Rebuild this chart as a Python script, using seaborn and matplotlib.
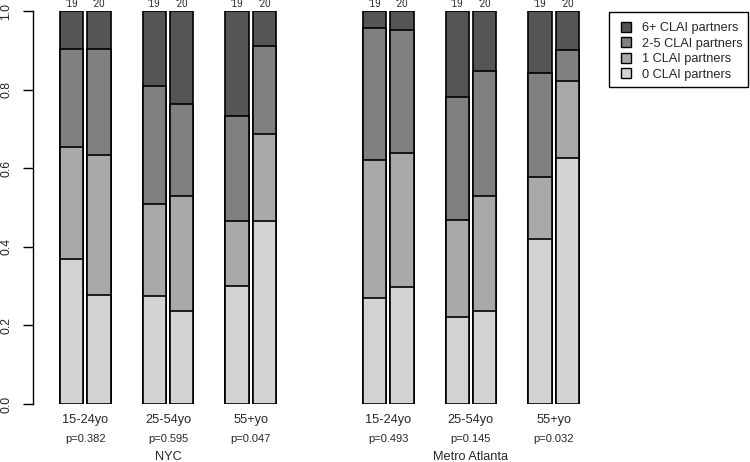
import pandas as pd
import matplotlib
matplotlib.use("Agg")
import matplotlib.pyplot as plt
from matplotlib.patches import Patch, Rectangle
import seaborn as sns

# ---- data ----
cities = ["NYC", "Metro Atlanta"]
ages = ["15-24yo", "25-54yo", "55+yo"]
years = ["'19", "'20"]
p_values = [["p=0.382", "p=0.595", "p=0.047"],
            ["p=0.493", "p=0.145", "p=0.032"]]
levels = ["0 CLAI partners", "1 CLAI partners", "2-5 CLAI partners", "6+ CLAI partners"]
level_colors = ["#D3D3D3", "#A9A9A9", "#808080", "#555555"]

# one value per bar: NYC 15-24 '19, '20, 25-54 '19, '20, 55+ '19, '20, then Metro Atlanta
zero_partners = [0.368, 0.278, 0.276, 0.236, 0.300, 0.466, 0.269, 0.297, 0.221, 0.237, 0.421, 0.626]
one_partner = [0.286, 0.356, 0.233, 0.294, 0.166, 0.222, 0.352, 0.341, 0.248, 0.291, 0.157, 0.197]
two_five_partners = [0.250, 0.270, 0.301, 0.234, 0.267, 0.222, 0.335, 0.314, 0.313, 0.319, 0.263, 0.077]
six_plus_partners = [0.096, 0.096, 0.190, 0.236, 0.267, 0.090, 0.044, 0.048, 0.218, 0.153, 0.159, 0.100]

# spacing between bars (in bar widths)
YEAR_STEP, AGE_STEP, CITY_STEP = 1.18, 3.55, 13.0

rows = []
i = 0
for c, city in enumerate(cities):
    for a, age in enumerate(ages):
        for y, year in enumerate(years):
            rows.append({
                "city": city, "age": age, "year": year,
                "pos": c * CITY_STEP + a * AGE_STEP + y * YEAR_STEP,
                "0": zero_partners[i], "1": one_partner[i],
                "2-5": two_five_partners[i], "6+": six_plus_partners[i],
            })
            i += 1
df = pd.DataFrame(rows)
keys = ["0", "1", "2-5", "6+"]
cum = df[keys].cumsum(axis=1)

sns.set_style("white")
plt.rcParams["font.family"] = ["Liberation Sans", "DejaVu Sans"]

fig = plt.figure(figsize=(7.5, 4.62), dpi=100)
ax = fig.add_axes([33 / 750, 58 / 462, 567 / 750, 393 / 462])

# stacked bars: draw cumulative totals from top level down
for k in range(len(keys) - 1, -1, -1):
    plot_df = pd.DataFrame({"pos": df["pos"], "cum": cum[keys[k]]})
    sns.barplot(data=plot_df, x="pos", y="cum", native_scale=True,
                width=1 / YEAR_STEP, color=level_colors[k], saturation=1,
                edgecolor="black", linewidth=1.2, errorbar=None, ax=ax)

ax.set_xlim(-1.652, 22.68)
ax.set_ylim(0, 1)
ax.set_xlabel("")
ax.set_ylabel("")
ax.set_xticks([])
ax.set_yticks([0, 0.2, 0.4, 0.6, 0.8, 1.0])
ax.set_yticklabels(["0.0", "0.2", "0.4", "0.6", "0.8", "1.0"])
ax.tick_params(axis="y", left=True, length=7, width=1, pad=12.3,
               labelsize=8.8, labelrotation=90, color="black")
for lab in ax.get_yticklabels():
    lab.set_va("center")
    lab.set_ha("center")
for side in ["top", "right", "bottom"]:
    ax.spines[side].set_visible(False)
ax.spines["left"].set_color("black")
ax.spines["left"].set_linewidth(1)

# year labels above bars
for _, r in df.iterrows():
    ax.annotate(r["year"], xy=(r["pos"], 1.0), xytext=(0, 4),
                textcoords="offset pixels", ha="center", va="baseline", fontsize=7)

# age / p-value / city labels below
for c, city in enumerate(cities):
    for a, age in enumerate(ages):
        mid = c * CITY_STEP + a * AGE_STEP + YEAR_STEP / 2
        ax.annotate(age, xy=(mid, 0), xytext=(0, -19), textcoords="offset pixels",
                    ha="center", va="baseline", fontsize=9.2, annotation_clip=False)
        ax.annotate(p_values[c][a], xy=(mid, 0), xytext=(0, -38), textcoords="offset pixels",
                    ha="center", va="baseline", fontsize=8, annotation_clip=False)
    mid_city = c * CITY_STEP + AGE_STEP + YEAR_STEP / 2
    ax.annotate(city, xy=(mid_city, 0), xytext=(0, -56.5), textcoords="offset pixels",
                ha="center", va="baseline", fontsize=9.2, annotation_clip=False)

# legend: frameless entries plus a separate box
handles = [Patch(facecolor=level_colors[k], edgecolor="black", linewidth=1)
           for k in range(len(keys) - 1, -1, -1)]
labels = levels[::-1]
fig.legend(handles, labels, loc="upper left", bbox_to_anchor=(621 / 750, 1 - 22 / 462),
           borderaxespad=0, borderpad=0, frameon=False, fontsize=9.2,
           handlelength=0.78, handleheight=0.78, handletextpad=0.85, labelspacing=0.25)
fig.add_artist(Rectangle((609 / 750, 1 - 87.3 / 462), 139 / 750, 75.6 / 462,
                         transform=fig.transFigure, fill=False, edgecolor="black", linewidth=1))

fig.savefig("out.png", dpi=100)
